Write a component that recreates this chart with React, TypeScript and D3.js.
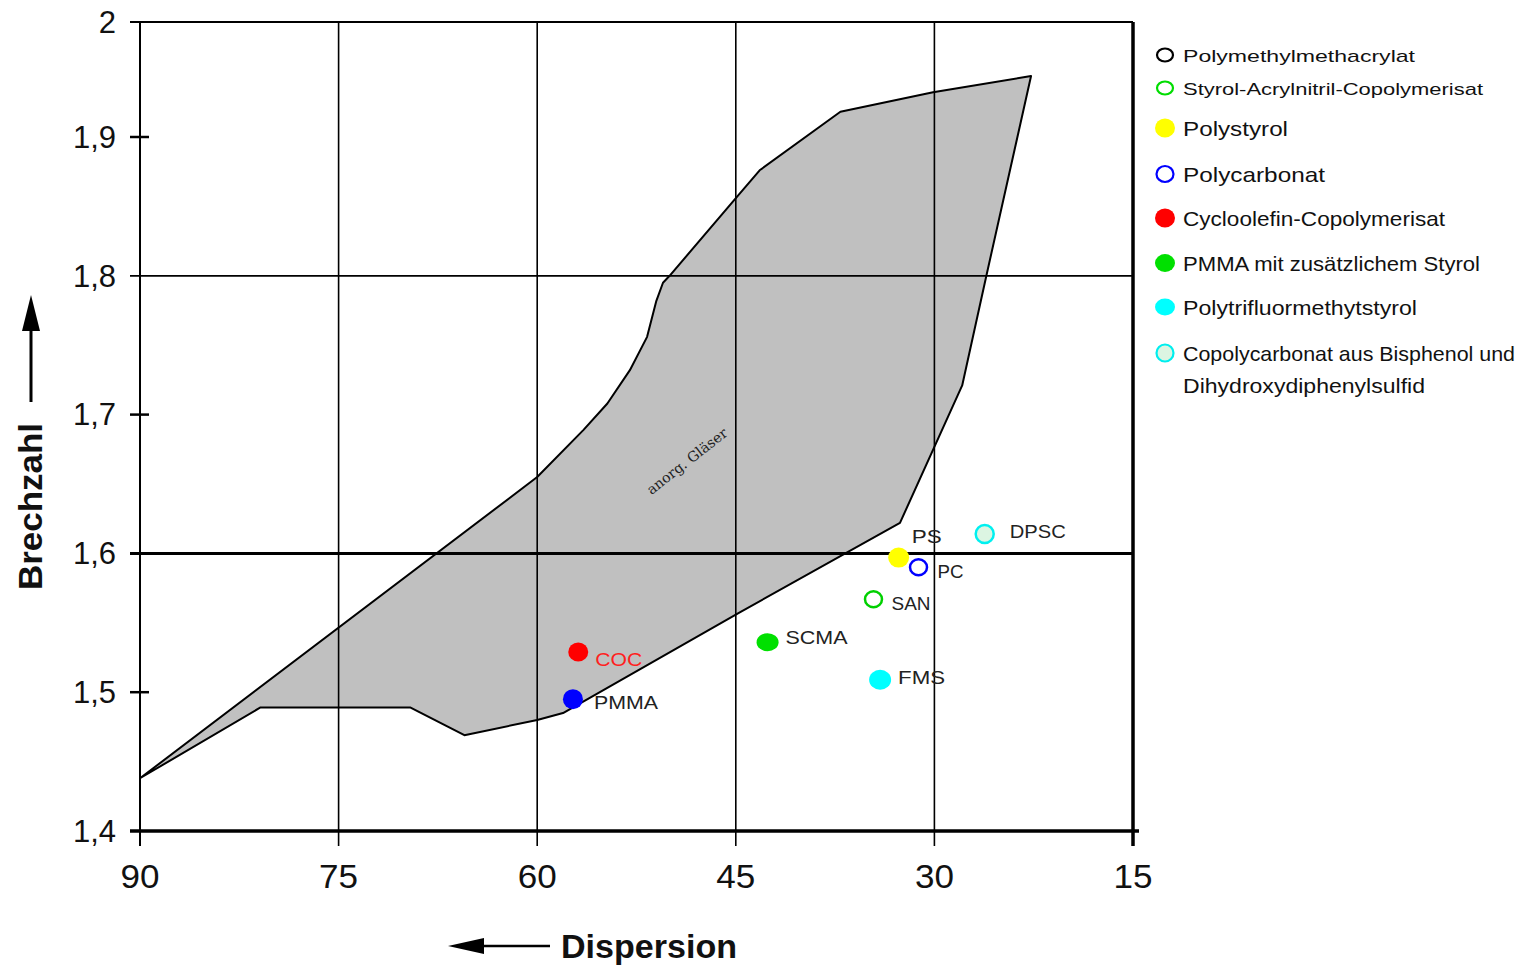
import React from 'react';
import * as d3 from 'd3';

// ---------- data ----------
const xTicks = [90, 75, 60, 45, 30, 15];
const yTicks = [1.4, 1.5, 1.6, 1.7, 1.8, 1.9, 2.0];
const yTickLabels = ['1,4', '1,5', '1,6', '1,7', '1,8', '1,9', '2'];
const yGridLines = [1.8, 1.6, 2.0];
const yTickOnly = [1.5, 1.7, 1.9];
const xGridLines = [75, 60, 45, 30];

// region "anorg. Gläser" (outline, dispersion / Brechzahl)
const glassDispersion = [90, 60.0, 56.5, 54.7, 53.0, 51.7, 51.0, 50.5, 50.0, 44.9, 43.2, 37.1, 30.1, 22.7, 26.1, 27.9, 32.6, 44.8, 58.05, 60.0, 65.5, 69.6, 80.9];
const glassIndex = [1.438, 1.655, 1.689, 1.708, 1.732, 1.756, 1.782, 1.795, 1.800, 1.857, 1.876, 1.922, 1.939, 1.953, 1.799, 1.721, 1.622, 1.557, 1.485, 1.480, 1.469, 1.489, 1.489];

const materials = ['PMMA', 'COC', 'SCMA', 'SAN', 'PS', 'PC', 'FMS', 'DPSC'];
const materialDispersion = [57.3, 56.9, 42.6, 34.6, 32.7, 31.2, 34.1, 26.2];
const materialIndex = [1.495, 1.529, 1.536, 1.567, 1.597, 1.590, 1.509, 1.614];

const legendLabels = [
  'Polymethylmethacrylat',
  'Styrol-Acrylnitril-Copolymerisat',
  'Polystyrol',
  'Polycarbonat',
  'Cycloolefin-Copolymerisat',
  'PMMA mit zusätzlichem Styrol',
  'Polytrifluormethytstyrol',
  'Copolycarbonat aus Bisphenol und',
];
const legendLabel2 = 'Dihydroxydiphenylsulfid';

// ---------- styles ----------
const FONT = "'Liberation Sans', Arial, sans-serif";

const pointStyle: Record<string, any> = {
  PMMA: { fill: '#0000ff', stroke: 'none', rx: 10, ry: 10, dx: 21, dy: 10, color: '#222' },
  COC: { fill: '#ff0000', stroke: 'none', rx: 10, ry: 9.5, dx: 17, dy: 14, color: '#ff2020' },
  SCMA: { fill: '#00e000', stroke: 'none', rx: 11, ry: 9, dx: 18, dy: 2, color: '#222' },
  SAN: { fill: 'none', stroke: '#00d000', rx: 8.5, ry: 8, dx: 18, dy: 11, color: '#222' },
  PS: { fill: '#ffff00', stroke: 'none', rx: 10.5, ry: 10, dx: 13, dy: -15, color: '#222' },
  PC: { fill: 'none', stroke: '#0000ff', rx: 8.5, ry: 8, dx: 19, dy: 11, color: '#222' },
  FMS: { fill: '#00ffff', stroke: 'none', rx: 11, ry: 10, dx: 18, dy: 4, color: '#222' },
  DPSC: { fill: '#dcf5e2', stroke: '#00f0f0', rx: 9, ry: 9, dx: 25, dy: 4, color: '#222' },
};
const labelWidths: Record<string, number> = { PMMA: 64, COC: 47, SCMA: 62, SAN: 39, PS: 30, PC: 26, FMS: 47, DPSC: 56 };

const legendMarkers = [
  { fill: 'none', stroke: '#000', rx: 8, ry: 6.5 },
  { fill: 'none', stroke: '#00dd00', rx: 8, ry: 6.5 },
  { fill: '#ffff00', stroke: 'none', rx: 10, ry: 9.5 },
  { fill: 'none', stroke: '#0000ff', rx: 8.5, ry: 8 },
  { fill: '#ff0000', stroke: 'none', rx: 10, ry: 9.5 },
  { fill: '#00e000', stroke: 'none', rx: 10, ry: 9 },
  { fill: '#00ffff', stroke: 'none', rx: 10, ry: 8.5 },
  { fill: '#dcf5e2', stroke: '#00eeee', rx: 8.5, ry: 8.5 },
];
const legendY = [55, 88, 128, 174, 218, 263, 307, 353];
const legendFont = [17, 17, 21, 21, 21, 21, 21, 21];
const legendWidths = [232, 300, 105, 142, 262, 297, 234, 332];

export default function App() {
  const x = d3.scaleLinear().domain([90, 15]).range([140, 1133]);
  const y = d3.scaleLinear().domain([1.4, 1.9, 2.0]).range([831, 137, 22]);

  const pts: [number, number][] = glassDispersion.map((d, i) => [d, glassIndex[i]]);
  const line = d3.line<[number, number]>().x((d) => x(d[0])).y((d) => y(d[1]));
  const polyPath = line(pts) + 'Z';

  const yTop = y(2.0);
  const yBot = y(1.4);
  const xL = x(90);
  const xR = x(15);

  return (
    <svg width={1522} height={966} style={{ position: 'absolute', left: 0, top: 0, background: '#fff' }} fontFamily={FONT}>
      <rect x={0} y={0} width={1522} height={966} fill="#fff" />

      {/* glass region */}
      <path d={polyPath} fill="#c0c0c0" stroke="#000" strokeWidth={2} strokeLinejoin="round" />

      {/* vertical grid lines */}
      {xGridLines.map((v) => (
        <line key={'vx' + v} x1={x(v)} x2={x(v)} y1={yTop} y2={yBot + 15} stroke="#000" strokeWidth={1.6} />
      ))}
      {/* horizontal grid lines */}
      {yGridLines.map((v) => (
        <line key={'hy' + v} x1={xL - 10} x2={xR} y1={y(v)} y2={y(v)} stroke="#000" strokeWidth={v === 1.6 ? 3 : 1.8} />
      ))}
      {/* tick-only marks on y */}
      {yTickOnly.map((v) => (
        <line key={'ty' + v} x1={xL - 10} x2={xL + 9} y1={y(v)} y2={y(v)} stroke="#000" strokeWidth={2.5} />
      ))}
      {/* axes */}
      <line x1={xL} x2={xL} y1={yTop} y2={yBot + 15} stroke="#000" strokeWidth={2} />
      <line x1={xR} x2={xR} y1={yTop} y2={yBot + 15} stroke="#000" strokeWidth={3.5} />
      <line x1={xL - 10} x2={xR + 6} y1={yBot} y2={yBot} stroke="#000" strokeWidth={3.5} />

      {/* y tick labels */}
      {yTicks.map((v, i) => (
        <text key={'yl' + v} x={116} y={y(v)} dy="0.35em" textAnchor="end" fontSize={31} fill="#111">
          {yTickLabels[i]}
        </text>
      ))}
      {/* x tick labels */}
      {xTicks.map((v) => (
        <text key={'xl' + v} x={x(v)} y={888} textAnchor="middle" fontSize={34} fill="#111" textLength={39} lengthAdjust="spacingAndGlyphs">
          {v}
        </text>
      ))}

      {/* region label */}
      <text
        x={690}
        y={465}
        fontSize={14}
        fill="#222"
        textAnchor="middle"
        transform="rotate(-38 690 465)"
        textLength={98}
        lengthAdjust="spacingAndGlyphs"
        fontFamily="'DejaVu Serif', serif"
      >
        anorg. Gläser
      </text>

      {/* materials */}
      {materials.map((m, i) => {
        const s = pointStyle[m];
        const cx = x(materialDispersion[i]);
        const cy = y(materialIndex[i]);
        return (
          <g key={m}>
            <ellipse cx={cx} cy={cy} rx={s.rx} ry={s.ry} fill={s.fill} stroke={s.stroke} strokeWidth={s.stroke === 'none' ? 0 : 2.5} />
            <text x={cx + s.dx} y={cy + s.dy} fontSize={19} fill={s.color} textLength={labelWidths[m]} lengthAdjust="spacingAndGlyphs">
              {m}
            </text>
          </g>
        );
      })}

      {/* legend */}
      {legendLabels.map((l, i) => {
        const mk = legendMarkers[i];
        return (
          <g key={'lg' + i}>
            <ellipse cx={1165} cy={legendY[i]} rx={mk.rx} ry={mk.ry} fill={mk.fill} stroke={mk.stroke} strokeWidth={mk.stroke === 'none' ? 0 : 2.2} />
            <text x={1183} y={legendY[i] + (legendFont[i] === 17 ? 6.5 : 8)} fontSize={legendFont[i]} fill="#111" textLength={legendWidths[i]} lengthAdjust="spacingAndGlyphs">
              {l}
            </text>
          </g>
        );
      })}
      <text x={1183} y={393} fontSize={21} fill="#111" textLength={242} lengthAdjust="spacingAndGlyphs">
        {legendLabel2}
      </text>

      {/* axis titles */}
      <text x={561} y={958} fontSize={33} fontWeight="bold" fill="#111" textLength={176} lengthAdjust="spacingAndGlyphs">
        Dispersion
      </text>
      <line x1={478} x2={550} y1={946} y2={946} stroke="#000" strokeWidth={2.5} />
      <path d="M448,946 L484,938 L484,954 Z" fill="#000" />

      <text
        x={42}
        y={590}
        fontSize={33}
        fontWeight="bold"
        fill="#111"
        transform="rotate(-90 42 590)"
        textLength={167}
        lengthAdjust="spacingAndGlyphs"
      >
        Brechzahl
      </text>
      <line x1={31} x2={31} y1={402} y2={325} stroke="#000" strokeWidth={3} />
      <path d="M31,295 L22,331 L40,331 Z" fill="#000" />
    </svg>
  );
}
